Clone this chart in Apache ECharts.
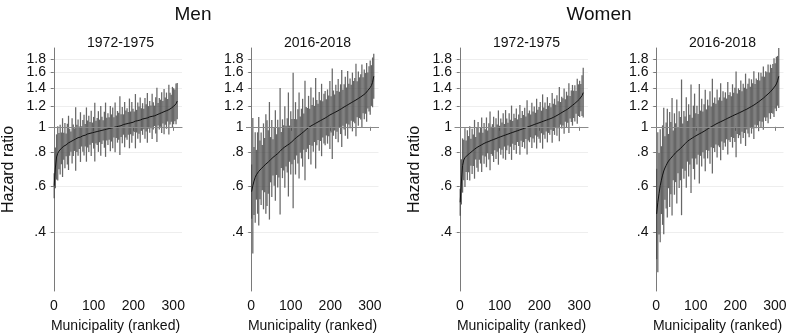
<!DOCTYPE html>
<html>
<head>
<meta charset="utf-8">
<script src="https://cdn.jsdelivr.net/npm/echarts@6/dist/echarts.min.js"></script>
<style>
  html, body { margin: 0; padding: 0; background: #fff; }
  #chart { width: 788px; height: 334px; }
</style>
</head>
<body>
<div id="chart"></div>
<script>
// municipality rank (every third municipality shown)
const ranks = [1,4,7,10,13,16,19,22,25,28,31,34,37,40,43,46,49,52,55,58,61,64,67,70,73,76,79,82,85,88,91,94,97,100,103,106,109,112,115,118,121,124,127,130,133,136,139,142,145,148,151,154,157,160,163,166,169,172,175,178,181,184,187,190,193,196,199,202,205,208,211,214,217,220,223,226,229,232,235,238,241,244,247,250,253,256,259,262,265,268,271,274,277,280,283,286,289,292,295,298,301,304,307,310];

// hazard ratios and standard errors of log HR
const menEarlyEst = [
  0.600,0.700,0.770,0.795,0.810,0.820,0.830,0.835,0.845,0.850,
  0.855,0.860,0.870,0.875,0.880,0.885,0.890,0.895,0.900,0.905,
  0.910,0.910,0.915,0.920,0.925,0.930,0.930,0.935,0.940,0.940,
  0.945,0.945,0.950,0.950,0.955,0.955,0.960,0.960,0.965,0.965,
  0.970,0.970,0.975,0.975,0.980,0.980,0.985,0.985,0.990,0.990,
  0.995,0.995,1.000,1.000,1.005,1.010,1.010,1.015,1.020,1.020,
  1.025,1.025,1.030,1.030,1.035,1.040,1.040,1.045,1.050,1.050,
  1.055,1.060,1.060,1.065,1.070,1.070,1.075,1.080,1.080,1.085,
  1.090,1.090,1.095,1.100,1.100,1.105,1.110,1.115,1.120,1.125,
  1.130,1.135,1.140,1.145,1.150,1.155,1.160,1.170,1.175,1.185,
  1.195,1.205,1.220,1.250];
const menEarlySe = [
  0.055,0.09,0.10,0.12,0.08,0.11,0.07,0.13,0.06,0.10,
  0.05,0.09,0.12,0.06,0.045,0.10,0.07,0.05,0.14,0.06,
  0.08,0.05,0.11,0.045,0.07,0.09,0.05,0.12,0.06,0.08,
  0.05,0.10,0.045,0.07,0.13,0.05,0.06,0.09,0.05,0.11,
  0.06,0.045,0.08,0.12,0.05,0.07,0.05,0.10,0.06,0.09,
  0.045,0.11,0.05,0.07,0.06,0.13,0.05,0.08,0.045,0.10,
  0.06,0.07,0.05,0.11,0.05,0.09,0.06,0.045,0.12,0.05,
  0.08,0.06,0.10,0.05,0.07,0.045,0.09,0.06,0.11,0.05,
  0.07,0.05,0.10,0.06,0.045,0.08,0.12,0.05,0.07,0.06,
  0.09,0.05,0.10,0.06,0.08,0.05,0.11,0.07,0.06,0.09,
  0.08,0.07,0.09,0.08];

const menLateEst = [
  0.570,0.600,0.625,0.645,0.660,0.670,0.680,0.688,0.695,0.702,
  0.710,0.717,0.724,0.730,0.737,0.745,0.752,0.760,0.767,0.774,
  0.780,0.786,0.793,0.800,0.809,0.818,0.827,0.834,0.840,0.846,
  0.852,0.858,0.864,0.870,0.879,0.888,0.897,0.905,0.913,0.920,
  0.928,0.935,0.943,0.950,0.959,0.968,0.977,0.986,0.994,1.000,
  1.007,1.013,1.019,1.025,1.031,1.037,1.043,1.049,1.055,1.061,
  1.067,1.073,1.079,1.085,1.093,1.100,1.108,1.114,1.120,1.126,
  1.132,1.138,1.144,1.150,1.158,1.165,1.172,1.180,1.188,1.195,
  1.202,1.210,1.217,1.225,1.232,1.240,1.247,1.255,1.262,1.270,
  1.278,1.287,1.296,1.305,1.315,1.325,1.336,1.348,1.370,1.388,
  1.405,1.430,1.470,1.550];
const menLateSe = [
  0.12,0.30,0.15,0.20,0.11,0.18,0.24,0.13,0.16,0.10,
  0.19,0.12,0.22,0.19,0.14,0.26,0.10,0.17,0.08,0.13,
  0.20,0.09,0.15,0.11,0.28,0.08,0.13,0.10,0.18,0.09,
  0.12,0.23,0.08,0.14,0.10,0.30,0.09,0.16,0.08,0.12,
  0.19,0.08,0.11,0.15,0.08,0.22,0.10,0.09,0.14,0.08,
  0.17,0.09,0.12,0.08,0.20,0.10,0.08,0.13,0.09,0.16,
  0.08,0.11,0.12,0.08,0.12,0.09,0.15,0.08,0.20,0.10,
  0.08,0.12,0.09,0.14,0.08,0.11,0.17,0.08,0.10,0.13,
  0.08,0.15,0.09,0.11,0.08,0.13,0.09,0.10,0.16,0.08,
  0.12,0.09,0.10,0.14,0.08,0.11,0.09,0.13,0.08,0.10,
  0.12,0.09,0.11,0.10];

const womenEarlyEst = [
  0.520,0.620,0.715,0.750,0.765,0.775,0.782,0.789,0.795,0.802,
  0.809,0.816,0.823,0.830,0.836,0.841,0.846,0.851,0.856,0.861,
  0.866,0.870,0.874,0.878,0.881,0.885,0.889,0.892,0.896,0.900,
  0.903,0.907,0.911,0.915,0.918,0.922,0.925,0.929,0.932,0.936,
  0.939,0.943,0.946,0.950,0.953,0.957,0.960,0.964,0.967,0.971,
  0.974,0.978,0.981,0.985,0.988,0.992,0.996,1.000,1.004,1.008,
  1.012,1.016,1.020,1.024,1.028,1.031,1.035,1.039,1.043,1.047,
  1.051,1.055,1.059,1.063,1.067,1.071,1.075,1.080,1.085,1.091,
  1.097,1.103,1.110,1.117,1.124,1.131,1.138,1.145,1.152,1.159,
  1.166,1.175,1.185,1.195,1.205,1.215,1.225,1.236,1.248,1.260,
  1.273,1.288,1.310,1.345];
const womenEarlySe = [
  0.06,0.10,0.12,0.09,0.13,0.07,0.11,0.08,0.12,0.06,
  0.10,0.07,0.13,0.05,0.09,0.11,0.06,0.08,0.12,0.05,
  0.09,0.06,0.11,0.05,0.08,0.13,0.06,0.07,0.10,0.05,
  0.09,0.06,0.12,0.05,0.08,0.06,0.10,0.05,0.11,0.07,
  0.05,0.09,0.06,0.12,0.05,0.08,0.06,0.10,0.05,0.07,
  0.11,0.05,0.08,0.06,0.09,0.05,0.12,0.06,0.07,0.05,
  0.10,0.06,0.08,0.05,0.11,0.06,0.07,0.09,0.05,0.12,
  0.06,0.08,0.05,0.10,0.06,0.07,0.05,0.11,0.06,0.08,
  0.05,0.09,0.06,0.12,0.05,0.07,0.06,0.10,0.05,0.08,
  0.06,0.11,0.05,0.07,0.09,0.06,0.08,0.05,0.10,0.07,
  0.08,0.06,0.09,0.11];

const womenLateEst = [
  0.470,0.520,0.560,0.600,0.630,0.658,0.682,0.700,0.715,0.730,
  0.743,0.753,0.762,0.771,0.780,0.790,0.799,0.807,0.814,0.821,
  0.828,0.837,0.846,0.855,0.864,0.873,0.882,0.889,0.895,0.901,
  0.907,0.913,0.919,0.925,0.930,0.936,0.941,0.946,0.951,0.957,
  0.962,0.968,0.975,0.981,0.988,0.994,1.000,1.006,1.012,1.018,
  1.024,1.029,1.035,1.040,1.045,1.050,1.055,1.060,1.066,1.071,
  1.077,1.082,1.088,1.093,1.099,1.104,1.110,1.114,1.120,1.125,
  1.131,1.136,1.142,1.148,1.154,1.159,1.165,1.172,1.179,1.186,
  1.193,1.200,1.207,1.215,1.224,1.233,1.242,1.252,1.262,1.272,
  1.282,1.294,1.306,1.318,1.330,1.342,1.355,1.370,1.388,1.405,
  1.425,1.450,1.490,1.550];
const womenLateSe = [
  0.20,0.31,0.18,0.25,0.15,0.22,0.28,0.14,0.19,0.24,
  0.12,0.21,0.16,0.26,0.11,0.18,0.13,0.23,0.10,0.17,
  0.14,0.30,0.10,0.15,0.12,0.20,0.09,0.16,0.11,0.24,
  0.09,0.14,0.19,0.10,0.13,0.09,0.22,0.10,0.15,0.09,
  0.12,0.18,0.09,0.13,0.10,0.16,0.09,0.21,0.10,0.12,
  0.09,0.15,0.10,0.11,0.17,0.09,0.13,0.10,0.12,0.09,
  0.16,0.10,0.11,0.09,0.14,0.10,0.12,0.19,0.09,0.11,
  0.10,0.14,0.09,0.12,0.10,0.16,0.09,0.11,0.13,0.09,
  0.12,0.10,0.15,0.09,0.11,0.10,0.13,0.09,0.12,0.10,
  0.14,0.09,0.11,0.10,0.13,0.09,0.12,0.10,0.11,0.13,
  0.10,0.12,0.11,0.14];

const hrTicks = [0.4, 0.6, 0.8, 1, 1.2, 1.4, 1.6, 1.8];
const xTicks = [0, 100, 200, 300];

const panels = [
  { sub: "1972-1975", est: menEarlyEst, se: menEarlySe, left: 49, width: 133, yName: true },
  { sub: "2016-2018", est: menLateEst, se: menLateSe, left: 246.5, width: 132, yName: false },
  { sub: "1972-1975", est: womenEarlyEst, se: womenEarlySe, left: 455, width: 133, yName: true },
  { sub: "2016-2018", est: womenLateEst, se: womenLateSe, left: 651.5, width: 132, yName: false }
];

const FONT = "Liberation Sans, Arial, sans-serif";
const TXT = "#111";
const AXIS = "#7a7a7a";
const BAR = "rgba(70,70,70,0.82)";

// log scale: plot ln(HR) on a value axis
const lnTicks = hrTicks.map(v => Math.log(v));
// labels split over two axes so the tightly packed top labels are not dropped
const lnLabelsMain = lnTicks.filter((v, k) => k % 2 === 0);
const lnLabelsAlt = lnTicks.filter((v, k) => k % 2 === 1);
const Y_MIN = Math.log(0.241);
const Y_MAX = Math.log(1.98);

function fmtHR(v) {
  let s = Math.exp(v).toFixed(1);
  if (s.endsWith(".0")) s = s.slice(0, -2);
  if (s.startsWith("0")) s = s.slice(1);
  return s;
}

function renderBar(params, api) {
  const a = api.coord([api.value(0), api.value(1)]);
  const b = api.coord([api.value(0), api.value(2)]);
  return {
    type: "line",
    shape: { x1: a[0], y1: a[1], x2: b[0], y2: b[1] },
    style: { stroke: BAR, lineWidth: 1.25 }
  };
}

const labelStyle = { fontFamily: FONT, fontSize: 14, color: TXT, margin: 3 };

const grid = [], xAxis = [], yAxis = [], extraY = [], series = [];
const title = [
  { text: "Men", left: 188, top: 0, textAlign: "center",
    textStyle: { fontFamily: FONT, fontSize: 19, fontWeight: "normal", color: TXT } },
  { text: "Women", left: 594, top: 0, textAlign: "center",
    textStyle: { fontFamily: FONT, fontSize: 19, fontWeight: "normal", color: TXT } }
];

panels.forEach((p, i) => {
  grid.push({ left: p.left, width: p.width, top: 48, bottom: 43, outerBoundsMode: "none", containLabel: false });
  title.push({
    text: p.sub, left: p.left + p.width / 2, top: 31, textAlign: "center",
    textStyle: { fontFamily: FONT, fontSize: 14, fontWeight: "normal", color: TXT }
  });
  xAxis.push({
    gridIndex: i, type: "value", min: -12, max: 322,
    name: "Municipality (ranked)", nameLocation: "middle", nameGap: 28,
    nameTextStyle: { fontFamily: FONT, fontSize: 14, color: TXT },
    axisLine: { lineStyle: { color: AXIS, width: 1 } },
    axisTick: { customValues: xTicks, length: 4, lineStyle: { color: AXIS } },
    axisLabel: { customValues: xTicks, fontFamily: FONT, fontSize: 14, color: TXT, margin: 8 },
    splitLine: { show: false }
  });
  yAxis.push({
    gridIndex: i, type: "value", position: "left", min: Y_MIN, max: Y_MAX,
    name: p.yName ? "Hazard ratio" : "", nameLocation: "middle", nameGap: 32,
    nameTextStyle: { fontFamily: FONT, fontSize: 16, color: TXT },
    axisLine: { show: true, lineStyle: { color: AXIS, width: 1 } },
    axisTick: { show: true, customValues: lnTicks, length: 3, lineStyle: { color: AXIS } },
    axisLabel: Object.assign({ customValues: lnLabelsMain, formatter: fmtHR }, labelStyle),
    splitLine: { show: true, lineStyle: { color: "#eeeeee", width: 1 } }
  });
  extraY.push({
    gridIndex: i, type: "value", position: "left", offset: 0, min: Y_MIN, max: Y_MAX,
    axisLine: { show: false }, axisTick: { show: false }, splitLine: { show: false },
    axisLabel: Object.assign({ customValues: lnLabelsAlt, formatter: fmtHR }, labelStyle)
  });

  const bars = p.est.map((e, k) => [
    ranks[k],
    Math.log(e) - 1.96 * p.se[k],
    Math.log(e) + 1.96 * p.se[k]
  ]);
  const line = p.est.map((e, k) => [ranks[k], Math.log(e)]);

  // reference line at HR = 1
  series.push({
    type: "line", xAxisIndex: i, yAxisIndex: i, data: [], z: 1, silent: true,
    markLine: {
      symbol: "none", silent: true, animation: false, label: { show: false },
      lineStyle: { color: "#8a8a8a", width: 1.2, type: "solid" },
      data: [{ yAxis: 0 }]
    }
  });
  series.push({
    type: "custom", xAxisIndex: i, yAxisIndex: i, z: 2, clip: true,
    renderItem: renderBar, encode: { x: 0, y: [1, 2] }, data: bars, animation: false
  });
  series.push({
    type: "line", xAxisIndex: i, yAxisIndex: i, z: 3, data: line,
    showSymbol: false, lineStyle: { color: "#111", width: 1 }, animation: false
  });
});

const chart = echarts.init(document.getElementById("chart"));
chart.setOption({
  backgroundColor: "#fff",
  animation: false,
  title: title,
  grid: grid,
  xAxis: xAxis,
  yAxis: yAxis.concat(extraY),
  series: series
});
</script>
</body>
</html>
